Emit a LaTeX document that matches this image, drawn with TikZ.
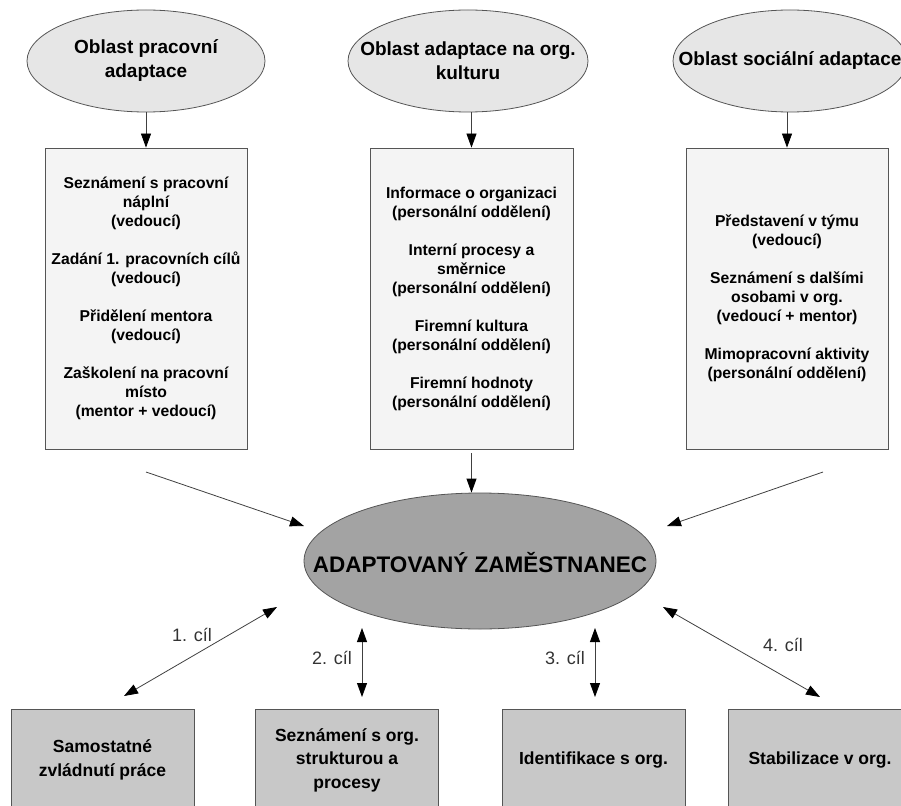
\documentclass[tikz,border=0pt]{standalone}
\usepackage{fontspec}
\setmainfont{Liberation Sans}
\usetikzlibrary{shapes.geometric,arrows.meta}
\definecolor{ellfill}{HTML}{E6E6E6}
\definecolor{boxfill}{HTML}{F4F4F4}
\definecolor{goalfill}{HTML}{C8C8C8}
\definecolor{centfill}{HTML}{A3A3A3}
\definecolor{edge}{HTML}{555555}
\definecolor{linec}{HTML}{404040}
\begin{document}
\begin{tikzpicture}[x=1pt,y=-1pt,
  tip/.tip={Triangle[length=14pt,width=10pt,color=black]},
  arr/.style={-tip, draw=linec, line width=0.8pt},
  darr/.style={tip-tip, draw=linec, line width=0.8pt},
  area/.style={ellipse, draw=edge, fill=ellfill, line width=0.8pt, minimum height=102pt, inner sep=0pt},
  areatext/.style={font=\bfseries\fontsize{19}{24}\selectfont, align=center},
  actbox/.style={rectangle, draw=edge, fill=boxfill, line width=0.8pt, minimum width=202pt, minimum height=301pt, align=center, inner sep=0pt, font=\bfseries\fontsize{15.7}{19}\selectfont},
  goal/.style={rectangle, draw=edge, fill=goalfill, line width=0.8pt, minimum width=183pt, minimum height=102pt, align=center, inner sep=0pt, font=\bfseries\fontsize{17.5}{23.5}\selectfont},
  lbl/.style={font=\fontsize{18}{20}\selectfont, text=black!80},
]
\path[use as bounding box] (0,0) rectangle (901,805);
\clip (0,0) rectangle (901,805);

% area ellipses
\node[area, minimum width=238pt] (e1) at (146,61) {};
\node[areatext] (t1) at (e1.center) {Oblast pracovní\\adaptace};
\node[area, minimum width=240pt] (e2) at (468,61) {};
\node[areatext] (t2) at (e2.center) {Oblast adaptace na org.\\kulturu};
\node[area, minimum width=234pt] (e3) at (790,61) {};
\node[areatext] (t3) at (e3.center) {Oblast sociální adaptace};

% activity boxes
\node[actbox] (b1) at (146,298.5) {Seznámení s pracovní\\náplní\\(vedoucí)\\[19pt]Zadání 1. pracovních cílů\\(vedoucí)\\[19pt]Přidělení mentora\\(vedoucí)\\[19pt]Zaškolení na pracovní\\místo\\(mentor + vedoucí)};
\node[actbox, minimum width=203pt] (b2) at (471.5,298.5) {Informace o organizaci\\(personální oddělení)\\[19pt]Interní procesy a\\směrnice\\(personální oddělení)\\[19pt]Firemní kultura\\(personální oddělení)\\[19pt]Firemní hodnoty\\(personální oddělení)};
\node[actbox] (b3) at (787,298.5) {Představení v týmu\\(vedoucí)\\[19pt]Seznámení s dalšími\\osobami v org.\\(vedoucí + mentor)\\[19pt]Mimopracovní aktivity\\(personální oddělení)};

\draw[arr] (e1.south) -- (b1.north);
\draw[arr] (b2.north |- e2.south) -- (b2.north);
\draw[arr] (b3.north |- e3.south) -- (b3.north);

% central ellipse
\node[ellipse, draw=edge, fill=centfill, line width=0.8pt, minimum width=352pt, minimum height=136pt, inner sep=0pt] (c) at (480,561) {};
\node[font=\bfseries\fontsize{22.5}{24}\selectfont] (ct) at (480,563) {ADAPTOVANÝ ZAMĚSTNANEC};

\coordinate (l1) at (146,472);
\coordinate (l2) at (304,526);
\coordinate (r1) at (823,472);
\coordinate (r2) at (667,526);
\draw[arr] (l1) -- (l2);
\draw[arr] (r1) -- (r2);
\draw[arr, shorten <=4pt] (b2.south) -- (b2.south |- c.north);

% goal boxes
\node[goal] (g1) at (102.5,760) {Samostatné\\zvládnutí práce};
\node[goal] (g2) at (347,760) {Seznámení s org.\\strukturou a\\procesy};
\node[goal] (g3) at (593.5,760) {Identifikace s org.};
\node[goal] (g4) at (820,760) {Stabilizace v org.};

\coordinate (a1s) at (277,607);
\coordinate (a1e) at (124,696);
\coordinate (a2s) at (362,628);
\coordinate (a2e) at (362,697);
\coordinate (a3s) at (595,628);
\coordinate (a3e) at (595,697);
\coordinate (a4s) at (663,607);
\coordinate (a4e) at (820,697);
\draw[darr] (a1s) -- (a1e);
\draw[darr] (a2s) -- (a2e);
\draw[darr] (a3s) -- (a3e);
\draw[darr] (a4s) -- (a4e);

\node[lbl] (n1) at (192,635) {1. cíl};
\node[lbl] (n2) at (332,658) {2. cíl};
\node[lbl] (n3) at (565,658) {3. cíl};
\node[lbl] (n4) at (783,645) {4. cíl};
\end{tikzpicture}
\end{document}
